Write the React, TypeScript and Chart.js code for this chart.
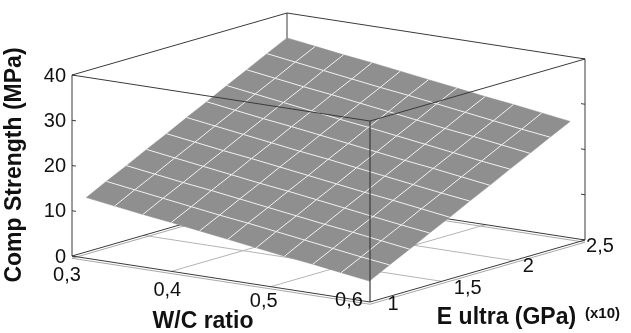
import React, { useEffect, useRef } from "react";
import { Chart, registerables } from "chart.js";

Chart.register(...registerables);

// ---------- data ----------
const wcTicks = [0.3, 0.4, 0.5, 0.6];
const wcTickLabels = ["0,3", "0,4", "0,5", "0,6"];
const eTicks = [1, 1.5, 2, 2.5];
const eTickLabels = ["1", "1,5", "2", "2,5"];
const zTicks = [0, 10, 20, 30, 40];
const zTickLabels = ["0", "10", "20", "30", "40"];

const xTitle = "W/C ratio";
const yTitle = "E ultra (GPa)";
const yTitleUnit = "(x10)";
const zTitle = "Comp Strength (MPa)";

// surface grid nodes
const wcNodes = [0.3, 0.3285, 0.357, 0.3855, 0.414, 0.4425, 0.471, 0.4995, 0.528, 0.5565, 0.585];
const eNodes = [1.1, 1.24, 1.38, 1.52, 1.66, 1.8, 1.94, 2.08, 2.22, 2.36, 2.5];
// strength[i][j] : E = eNodes[i], W/C = wcNodes[j]
const strength = [
  [12.0, 11.1, 10.2, 9.4, 8.5, 7.6, 6.7, 5.8, 5.0, 4.1, 3.2],
  [14.3, 13.4, 12.5, 11.6, 10.7, 9.9, 9.0, 8.1, 7.2, 6.3, 5.5],
  [16.5, 15.6, 14.7, 13.9, 13.0, 12.1, 11.2, 10.3, 9.5, 8.6, 7.7],
  [18.8, 17.9, 17.0, 16.1, 15.2, 14.4, 13.5, 12.6, 11.7, 10.8, 10.0],
  [21.0, 20.1, 19.2, 18.4, 17.5, 16.6, 15.7, 14.8, 14.0, 13.1, 12.2],
  [23.3, 22.4, 21.5, 20.6, 19.7, 18.9, 18.0, 17.1, 16.2, 15.3, 14.5],
  [25.5, 24.6, 23.7, 22.9, 22.0, 21.1, 20.2, 19.3, 18.5, 17.6, 16.7],
  [27.8, 26.9, 26.0, 25.1, 24.2, 23.4, 22.5, 21.6, 20.7, 19.8, 19.0],
  [30.0, 29.1, 28.2, 27.4, 26.5, 25.6, 24.7, 23.8, 23.0, 22.1, 21.2],
  [32.3, 31.4, 30.5, 29.6, 28.7, 27.9, 27.0, 26.1, 25.2, 24.3, 23.5],
  [34.5, 33.6, 32.7, 31.9, 31.0, 30.1, 29.2, 28.3, 27.5, 26.6, 25.7],
];

// ---------- layout / style ----------
const W = 631;
const H = 333;
const ORIGIN = { x: 72, y: 256 };
const AX_W = { x: 298, y: 46 };
const AX_E = { x: 215, y: -62 };
const AX_Z = { x: 0, y: -181 };

const FONT = '"Liberation Sans", Arial, Helvetica, sans-serif';
const SURF_FILL = "#8f8f8f";
const SURF_GRID = "#f2f2f2";
const EDGE = "#3a3a3a";
const FLOOR = "#b4b4b4";

const wMin = wcTicks[0];
const wMax = wcTicks[wcTicks.length - 1];
const eMin = eTicks[0];
const eMax = eTicks[eTicks.length - 1];
const zMax = zTicks[zTicks.length - 1];

function proj(w: number, e: number, z: number) {
  const u = (w - wMin) / (wMax - wMin);
  const v = (e - eMin) / (eMax - eMin);
  const t = z / zMax;
  return {
    x: ORIGIN.x + u * AX_W.x + v * AX_E.x + t * AX_Z.x,
    y: ORIGIN.y + u * AX_W.y + v * AX_E.y + t * AX_Z.y,
  };
}

const wcLabelOffsets = [
  [-5, 19],
  [-4, 19],
  [-7, 15],
  [-21, -2],
];
const eLabelOffsets = [
  [23, 2],
  [26, 7],
  [15, 6],
  [15, 6],
];

function buildDatasets() {
  const ds: any[] = [];
  const line = (pts: number[][], color: string, width: number, order: number) => {
    ds.push({
      data: pts.map(([w, e, z]) => proj(w, e, z)),
      showLine: true,
      borderColor: color,
      borderWidth: width,
      pointRadius: 0,
      fill: false,
      order,
      clip: false,
    });
  };

  // floor grid
  wcTicks.slice(1, -1).forEach((w) => line([[w, eMin, 0], [w, eMax, 0]], FLOOR, 1, 90));
  eTicks.slice(1, -1).forEach((e) => line([[wMin, e, 0], [wMax, e, 0]], FLOOR, 1, 90));
  // floor perimeter (light, just below the box edges)
  line(
    [
      [wMin, eMin, -0.5],
      [wMax, eMin, -0.5],
      [wMax, eMax, -0.5],
      [wMin, eMax, -0.5],
      [wMin, eMin, -0.5],
    ],
    "#a8a8a8",
    1,
    88
  );

  // back box edges (behind the surface)
  line([[wMin, eMin, 0], [wMin, eMax, 0]], EDGE, 1, 80);
  line([[wMin, eMax, 0], [wMax, eMax, 0]], EDGE, 1, 80);
  line([[wMin, eMax, 0], [wMin, eMax, zMax]], EDGE, 1, 80);
  line([[wMin, eMin, zMax], [wMin, eMax, zMax]], EDGE, 1, 80);
  line([[wMin, eMax, zMax], [wMax, eMax, zMax]], EDGE, 1, 80);

  // surface fill
  const ni = eNodes.length;
  const nj = wcNodes.length;
  const boundary: number[][] = [];
  for (let j = 0; j < nj; j++) boundary.push([wcNodes[j], eNodes[0], strength[0][j]]);
  for (let i = 1; i < ni; i++) boundary.push([wcNodes[nj - 1], eNodes[i], strength[i][nj - 1]]);
  for (let j = nj - 2; j >= 0; j--) boundary.push([wcNodes[j], eNodes[ni - 1], strength[ni - 1][j]]);
  for (let i = ni - 2; i >= 0; i--) boundary.push([wcNodes[0], eNodes[i], strength[i][0]]);
  ds.push({
    data: boundary.map(([w, e, z]) => proj(w, e, z)),
    showLine: true,
    borderColor: SURF_FILL,
    borderWidth: 0.5,
    backgroundColor: SURF_FILL,
    pointRadius: 0,
    fill: "shape",
    order: 50,
    clip: false,
  });

  // surface grid lines
  for (let i = 1; i < ni - 1; i++) {
    line(wcNodes.map((w, j) => [w, eNodes[i], strength[i][j]]), SURF_GRID, 1, 40);
  }
  for (let j = 1; j < nj - 1; j++) {
    line(eNodes.map((e, i) => [wcNodes[j], e, strength[i][j]]), SURF_GRID, 1, 40);
  }

  // front box edges
  line([[wMin, eMin, 0], [wMax, eMin, 0]], EDGE, 1, 10);
  line([[wMax, eMin, 0], [wMax, eMax, 0]], EDGE, 1, 10);
  line([[wMin, eMin, 0], [wMin, eMin, zMax]], EDGE, 1, 10);
  line([[wMax, eMin, 0], [wMax, eMin, zMax]], EDGE, 1.2, 10);
  line([[wMax, eMax, 0], [wMax, eMax, zMax]], EDGE, 1, 10);
  line([[wMin, eMin, zMax], [wMax, eMin, zMax]], EDGE, 1, 10);
  line([[wMax, eMin, zMax], [wMax, eMax, zMax]], EDGE, 1, 10);

  // tick marks
  zTicks.forEach((z) => {
    line([[wMin, eMin, z], [wMin + 0.004, eMin, z]], EDGE, 1, 5);
    line([[wMax, eMax, z], [wMax - 0.004, eMax, z]], EDGE, 1, 5);
  });
  return ds;
}

const labelPlugin = {
  id: "labels3d",
  afterDatasetsDraw(chart: any) {
    const ctx = chart.ctx as CanvasRenderingContext2D;
    ctx.save();
    ctx.fillStyle = "#111";
    ctx.textBaseline = "middle";

    // tick labels
    ctx.font = `20px ${FONT}`;
    ctx.textAlign = "right";
    zTicks.forEach((z, k) => {
      const p = proj(wMin, eMin, z);
      ctx.fillText(zTickLabels[k], p.x - 6, p.y + 1);
    });
    ctx.textAlign = "center";
    wcTicks.forEach((w, k) => {
      const p = proj(w, eMin, 0);
      ctx.fillText(wcTickLabels[k], p.x + wcLabelOffsets[k][0], p.y + wcLabelOffsets[k][1]);
    });
    eTicks.forEach((e, k) => {
      const p = proj(wMax, e, 0);
      ctx.fillText(eTickLabels[k], p.x + eLabelOffsets[k][0], p.y + eLabelOffsets[k][1]);
    });

    // axis titles
    ctx.font = `bold 23px ${FONT}`;
    const mw = proj((wMin + wMax) / 2, eMin, 0);
    ctx.fillText(xTitle, mw.x - 18, mw.y + 43);
    const me = proj(wMax, (eMin + eMax) / 2, 0);
    ctx.fillText(yTitle, me.x + 29, me.y + 47);
    ctx.font = `bold 15px ${FONT}`;
    ctx.fillText(yTitleUnit, me.x + 125, me.y + 43);

    ctx.font = `bold 23px ${FONT}`;
    ctx.translate(15, 165);
    ctx.rotate(-Math.PI / 2);
    ctx.fillText(zTitle, 0, 0);
    ctx.restore();
  },
};

export default function App() {
  const ref = useRef<HTMLCanvasElement | null>(null);
  useEffect(() => {
    document.body.style.margin = "0";
    const canvas = ref.current;
    if (!canvas) return;
    const chart = new Chart(canvas, {
      type: "scatter",
      data: { datasets: buildDatasets() },
      options: {
        animation: false,
        responsive: false,
        devicePixelRatio: 1,
        events: [],
        layout: { padding: 0 },
        plugins: { legend: { display: false }, tooltip: { enabled: false } },
        elements: { point: { radius: 0 }, line: { tension: 0 } },
        scales: {
          x: { type: "linear", min: 0, max: W, display: false },
          y: { type: "linear", min: 0, max: H, reverse: true, display: false },
        },
      },
      plugins: [labelPlugin],
    } as any);
    return () => chart.destroy();
  }, []);
  return (
    <div style={{ width: W, height: H, background: "#fff" }}>
      <canvas ref={ref} width={W} height={H} style={{ display: "block" }} />
    </div>
  );
}
